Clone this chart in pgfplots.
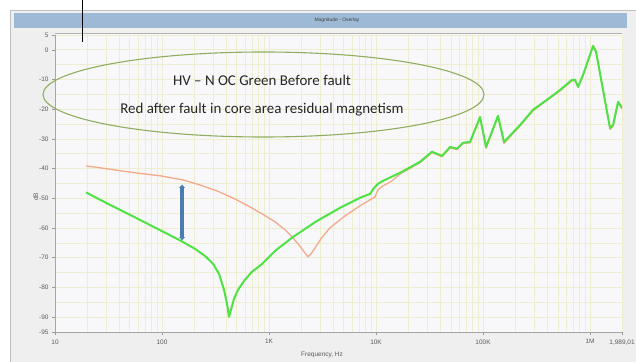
\documentclass[border=0pt]{standalone}
\usepackage{fontspec}
\setmainfont{Liberation Sans}
\newfontfamily\calib{Carlito}
\usepackage{pgfplots}
\pgfplotsset{compat=1.18}
\usetikzlibrary{arrows.meta}
\definecolor{winbg}{HTML}{EFEFEF}
\definecolor{titlebar}{HTML}{9DB9D6}
\definecolor{plotbg}{HTML}{F8F8FA}
\definecolor{gridc}{HTML}{EEEDCF}
\definecolor{greenc}{HTML}{4FE244}
\definecolor{orangec}{HTML}{F2AA8A}
\definecolor{ellc}{HTML}{8FAE60}
\definecolor{arrowc}{HTML}{4A7CB2}
\definecolor{labc}{HTML}{5A5A5A}

\pgfplotstableread{
f dB
19.5 -48.0
32.7 -52.2
55.9 -56.4
95.8 -60.7
153.8 -64.5
203.4 -67.0
252.3 -69.4
299.6 -72.0
340.9 -75.4
379.7 -80.8
405.0 -85.5
422.9 -89.9
441.5 -87.5
470.9 -83.8
513.3 -80.8
584.0 -77.8
693.7 -74.7
860.2 -72.1
1138 -67.7
1676 -63.0
2809 -57.6
4609 -53.2
7087 -49.8
8789 -48.5
9579 -46.5
10440 -45.1
11627 -44.1
16760 -41.4
25770 -37.7
33350 -34.3
41400 -35.7
49200 -32.7
57200 -33.3
65000 -31.3
75600 -31
93800 -22.6
106700 -32.7
138000 -22.2
157000 -31
222000 -25.3
293000 -20.2
396000 -16.8
525000 -13.5
679000 -10.1
724000 -10.1
773000 -12.5
861000 -8.4
1067000 1.3
1138000 -0.7
1538000 -26.3
1641000 -25.3
1828000 -17.5
1989000 -19.5
}\greendata

\pgfplotstableread{
f dB
19.5 -39.1
26.3 -39.7
40.5 -40.7
62.3 -41.6
95.8 -42.4
157.1 -43.8
226.5 -45.5
326.6 -47.5
481.1 -50.2
664.2 -52.9
860.2 -55.2
1138 -57.9
1411 -60.6
1676 -63.3
1908 -65.7
2124 -68.0
2315 -69.7
2469 -68.7
2691 -66.7
3062 -63.6
3716 -59.9
5133 -55.9
7087 -52.5
8789 -50.5
9788 -49.5
10440 -47.1
11627 -45.8
14110 -44.1
16760 -41.8
25770 -38
33350 -34.6
41400 -36
49200 -33
57200 -33.6
65000 -31.6
75600 -31.3
93800 -22.8
106700 -33.2
138000 -22.5
157000 -31.5
222000 -25.6
293000 -20.5
396000 -17
525000 -13.8
679000 -10.4
724000 -10.4
773000 -12.2
861000 -8.6
1067000 1.5
1138000 -0.5
1538000 -26.8
1641000 -25.8
1828000 -17.8
1989000 -19.8
}\orangedata

\begin{document}
\begin{tikzpicture}
\path[use as bounding box] (0,0) rectangle (636bp,362bp);
\fill[white] (0,0) rectangle (636bp,362bp);
\fill[winbg] (10bp,0) rectangle (636bp,352bp);
\draw[black!25, line width=0.6bp] (10bp,0) -- (10bp,352bp) -- (636bp,352bp);
\fill[titlebar] (14bp,334bp) rectangle (627bp,349bp);
\node[font=\fontsize{5}{6}\selectfont, text=black!75] at (337bp,341.5bp) {Magnitude - Overlay};
\fill[plotbg] (55bp,30bp) rectangle (622bp,329bp);
\begin{axis}[
  at={(55bp,30bp)}, anchor=south west,
  scale only axis, width=567bp, height=297bp,
  xmode=log, xmin=10, xmax=1989010, ymin=-95, ymax=5,
  axis x line*=bottom, axis y line*=left,
  axis line style={draw=black!35, line width=0.6bp},
  /pgf/number format/assume math mode=true,
  xtick={10,100,1000,10000,100000,1000000,1989010},
  xticklabels={10,100,1K,10K,100K,1M,{1,989,01}},
  ytick={5,0,-10,-20,-30,-40,-50,-60,-70,-80,-90,-95},
  yticklabels={5,0,-10,-20,-30,-40,-50,-60,-70,-80,-90,-95},
  minor xtick={20,30,40,50,60,70,80,90,200,300,400,500,600,700,800,900,2000,3000,4000,5000,6000,7000,8000,9000,20000,30000,40000,50000,60000,70000,80000,90000,200000,300000,400000,500000,600000,700000,800000,900000},
  minor ytick={-85,-75,-65,-55,-45,-35,-25,-15,-5},
  grid=both,
  major grid style={draw=gridc, line width=0.75bp},
  minor grid style={draw=gridc, line width=0.65bp},
  tick align=outside,
  major tick length=3bp, minor tick length=0pt,
  every tick/.style={draw=black!40, line width=0.5bp},
  tick label style={font=\fontsize{6.5}{7}\selectfont, text=labc},
  xticklabel style={yshift=-1bp},
  xlabel={Frequency, Hz},
  ylabel={dB},
  every axis x label/.style={at={(axis description cs:0.471,-0.078)}, anchor=center, font=\fontsize{6.5}{7}\selectfont, text=labc},
  every axis y label/.style={at={(axis description cs:-0.034,0.455)}, anchor=center, rotate=90, font=\fontsize{6.5}{7}\selectfont, text=labc},
  clip=true,
]
\addplot[orangec, line width=1.3bp, line join=round] table[x=f, y=dB] {\orangedata};
\addplot[greenc, line width=2bp, line join=round] table[x=f, y=dB] {\greendata};
\draw[arrowc, line width=3.8bp, {Latex[length=3.5bp,width=6.5bp]}-{Latex[length=3.5bp,width=6.5bp]}] (axis cs:154,-45.3) -- (axis cs:154,-64.2);
\end{axis}
\draw[black!30, line width=0.7bp] (55bp,329bp) -- (622bp,329bp);
\draw[ellc, line width=1.1bp] (263.5bp,267.5bp) ellipse [x radius=220.5bp, y radius=42.5bp];
\node[font=\calib\fontsize{15}{17}\selectfont, text=black!85] at (262bp,282bp) {HV – N OC Green Before fault};
\node[font=\calib\fontsize{15}{17}\selectfont, text=black!85] at (262bp,252bp) {Red after fault in core area residual magnetism};
\draw[black, line width=0.8bp] (82bp,362bp) -- (82bp,320bp);
\end{tikzpicture}
\end{document}
